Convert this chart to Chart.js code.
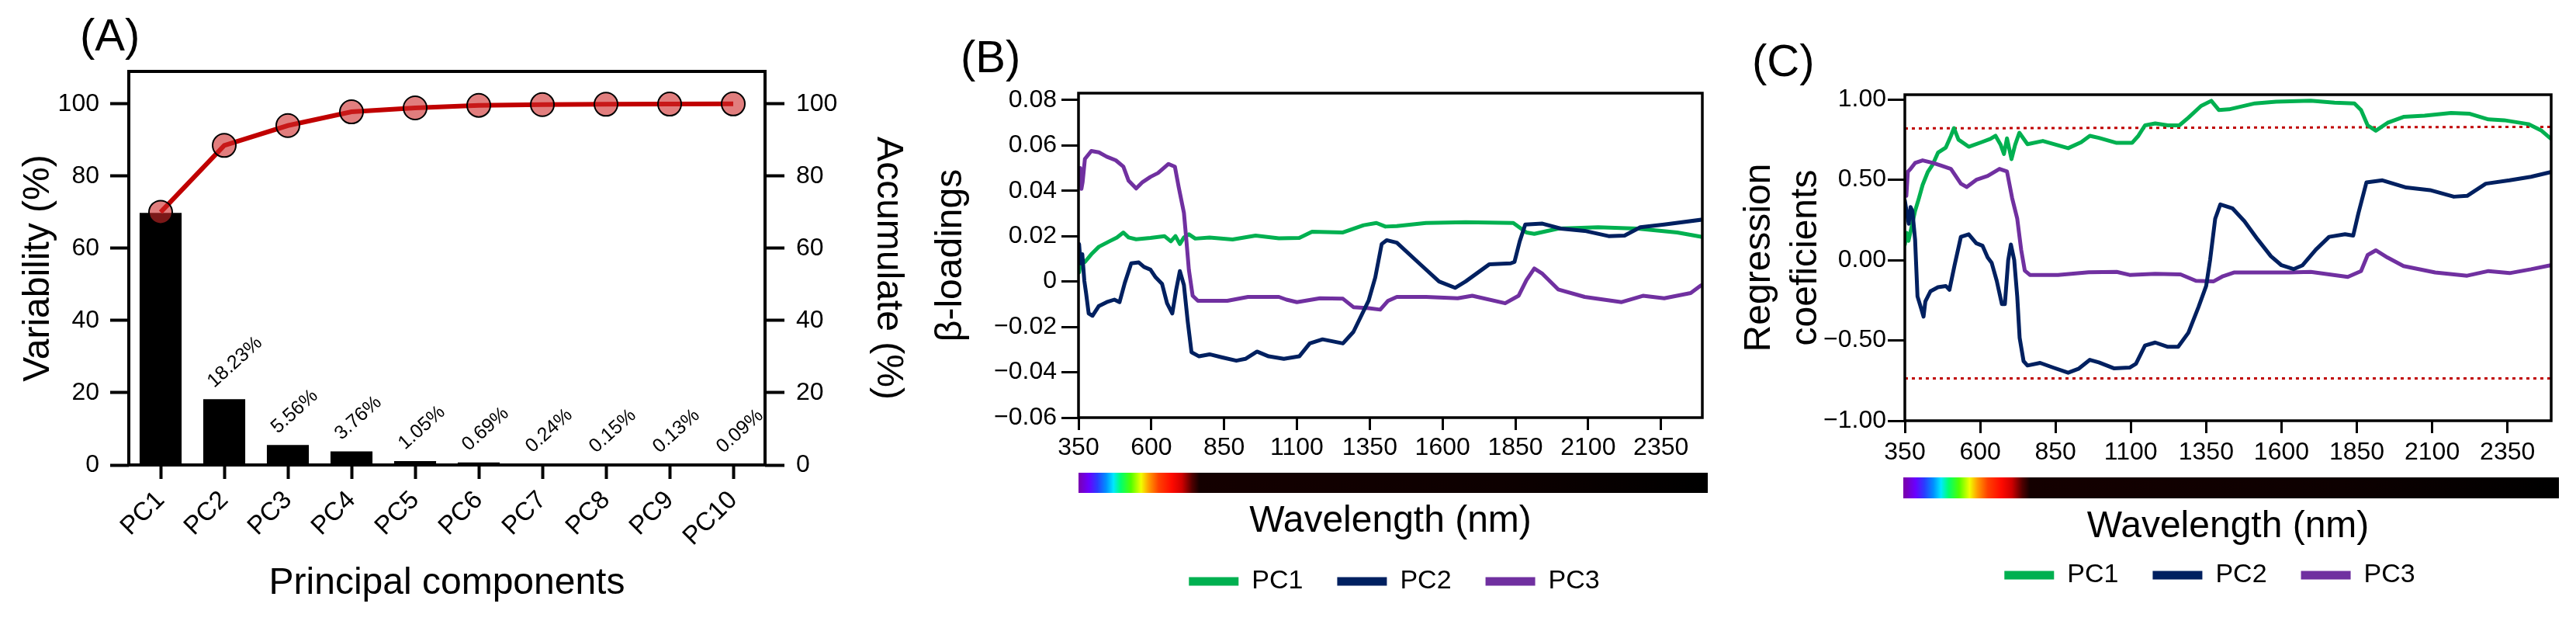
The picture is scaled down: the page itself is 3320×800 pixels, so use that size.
<!DOCTYPE html>
<html><head><meta charset="utf-8">
<script src="https://cdn.jsdelivr.net/npm/chart.js@4.4.1/dist/chart.umd.min.js"></script>
<style>
html,body{margin:0;padding:0;background:#fff;}
#wrap{position:relative;width:3320px;height:800px;overflow:hidden;background:#fff;}
.box{position:absolute;top:0;height:800px;}
.plabel{position:absolute;font-family:'Liberation Sans',Arial,sans-serif;font-size:58px;line-height:58px;color:#000;white-space:nowrap;}
</style></head><body>
<div id="wrap">
  <div class="box" style="left:0;width:1180px"><canvas id="chartA"></canvas></div>
  <div class="box" style="left:1180px;width:1234px"><canvas id="chartB"></canvas></div>
  <div class="box" style="left:2230px;width:1236px"><canvas id="chartC"></canvas></div>
  <div class="plabel" style="left:103px;top:16px">(A)</div>
  <div class="plabel" style="left:1238px;top:44px">(B)</div>
  <div class="plabel" style="left:2258px;top:49px">(C)</div>
</div>
<script>
// ---------- Panel A data ----------
const components = ['PC1','PC2','PC3','PC4','PC5','PC6','PC7','PC8','PC9','PC10'];
const variability = [69.8, 18.23, 5.56, 3.76, 1.05, 0.69, 0.24, 0.15, 0.13, 0.09];
const accumulated = [70.0, 88.5, 94.0, 97.8, 98.9, 99.6, 99.8, 99.9, 99.95, 100.0];
const variabilityLabels = ['', '18.23%', '5.56%', '3.76%', '1.05%', '0.69%', '0.24%', '0.15%', '0.13%', '0.09%'];
const percentTicks = [0, 20, 40, 60, 80, 100];

// ---------- Panel B data (beta-loadings) ----------
const wavelengthTicks = [350, 600, 850, 1100, 1350, 1600, 1850, 2100, 2350];
const loadingTicks = [-0.06, -0.04, -0.02, 0, 0.02, 0.04, 0.06, 0.08];
const bWlPC1 = [352,360,372,394,420,456,482,504,522,548,597,645,667,683,698,712,729,751,800,879,958,1038,1108,1152,1258,1329,1373,1404,1443,1543,1679,1843,1888,1915,1997,2134,2270,2406,2488];
const bPC1 = [0.0040,0.0099,0.0086,0.0120,0.0153,0.0177,0.0194,0.0216,0.0194,0.0186,0.0192,0.0200,0.0177,0.0200,0.0165,0.0194,0.0208,0.0189,0.0194,0.0185,0.0202,0.0190,0.0192,0.0219,0.0216,0.0248,0.0258,0.0242,0.0244,0.0258,0.0261,0.0258,0.0216,0.0210,0.0233,0.0239,0.0233,0.0216,0.0197];
const bWlPC2 = [352,357,363,370,376,385,398,420,447,473,491,509,531,557,575,597,615,637,654,672,685,698,712,725,738,764,800,844,892,923,963,1003,1055,1108,1144,1188,1258,1294,1346,1369,1391,1408,1443,1525,1588,1643,1679,1761,1834,1847,1865,1884,1943,2006,2088,2170,2225,2279,2361,2493];
const bPC2 = [0.0165,0.0080,0.0120,0.0003,-0.0051,-0.0141,-0.0151,-0.0108,-0.0091,-0.0080,-0.0091,-0.0006,0.0080,0.0084,0.0064,0.0052,0.0018,-0.0011,-0.0096,-0.0141,-0.0039,0.0046,-0.0016,-0.0176,-0.0312,-0.0330,-0.0321,-0.0335,-0.0349,-0.0341,-0.0309,-0.0330,-0.0341,-0.0330,-0.0273,-0.0255,-0.0273,-0.0222,-0.0085,0.0018,0.0165,0.0182,0.0171,0.0074,0.0000,-0.0028,0.0000,0.0076,0.0080,0.0086,0.0177,0.0251,0.0255,0.0233,0.0223,0.0200,0.0202,0.0239,0.0251,0.0273];
const bWlPC3 = [352,356,360,364,372,394,420,447,478,504,522,548,570,597,623,659,681,694,712,720,729,742,760,861,932,1038,1064,1100,1179,1258,1294,1346,1386,1413,1443,1543,1652,1702,1815,1861,1888,1915,1943,1997,2088,2215,2288,2361,2452,2488];
const bPC3 = [0.0461,0.0500,0.0408,0.0437,0.0540,0.0575,0.0569,0.0550,0.0534,0.0506,0.0444,0.0410,0.0438,0.0461,0.0478,0.0518,0.0506,0.0416,0.0302,0.0188,0.0051,-0.0063,-0.0085,-0.0085,-0.0068,-0.0068,-0.0080,-0.0091,-0.0074,-0.0076,-0.0113,-0.0118,-0.0124,-0.0085,-0.0068,-0.0068,-0.0074,-0.0063,-0.0096,-0.0063,0.0006,0.0057,0.0034,-0.0035,-0.0068,-0.0091,-0.0063,-0.0074,-0.0051,-0.0017];

// ---------- Panel C data (regression coefficients) ----------
const coefTicks = [-1, -0.5, 0, 0.5, 1];
const cWlPC1 = [350,356,362,367,384,397,409,426,443,460,486,503,513,528,562,604,634,651,668,679,689,704,716,730,757,808,892,935,964,994,1053,1104,1125,1147,1181,1223,1261,1291,1333,1367,1392,1426,1512,1582,1697,1776,1842,1864,1886,1913,1952,2005,2075,2163,2225,2287,2339,2419,2463,2493];
const cPC1 = [0.097,0.170,0.120,0.161,0.306,0.387,0.468,0.548,0.597,0.669,0.701,0.774,0.822,0.750,0.706,0.734,0.755,0.774,0.718,0.661,0.758,0.629,0.718,0.793,0.722,0.742,0.697,0.734,0.774,0.761,0.730,0.730,0.774,0.839,0.851,0.839,0.839,0.887,0.960,0.992,0.935,0.939,0.976,0.987,0.992,0.980,0.976,0.935,0.839,0.806,0.855,0.892,0.900,0.916,0.911,0.876,0.871,0.847,0.806,0.758];
const cWlPC2 = [350,356,363,369,375,384,392,405,412,418,435,460,486,498,515,536,562,587,608,625,638,655,672,682,693,702,713,723,731,744,757,799,842,892,926,964,994,1045,1096,1117,1147,1181,1223,1257,1291,1325,1350,1363,1380,1397,1437,1477,1521,1565,1600,1640,1670,1714,1758,1811,1838,1855,1882,1935,2014,2093,2172,2216,2278,2357,2428,2493];
const cPC2 = [0.371,0.300,0.226,0.330,0.306,0.129,-0.226,-0.306,-0.352,-0.258,-0.194,-0.169,-0.161,-0.185,-0.032,0.145,0.161,0.105,0.089,0.016,-0.016,-0.129,-0.274,-0.274,0.000,0.097,0.000,-0.226,-0.484,-0.629,-0.656,-0.640,-0.669,-0.701,-0.677,-0.621,-0.637,-0.674,-0.669,-0.645,-0.532,-0.513,-0.540,-0.540,-0.452,-0.290,-0.161,0.000,0.258,0.347,0.323,0.242,0.129,0.024,-0.032,-0.056,-0.032,0.065,0.145,0.161,0.153,0.290,0.484,0.497,0.452,0.436,0.395,0.400,0.476,0.497,0.519,0.548];
const cWlPC3 = [350,355,360,367,384,409,443,469,503,536,555,587,625,664,689,706,723,736,748,765,858,960,1053,1096,1181,1265,1316,1375,1406,1442,1626,1697,1820,1864,1886,1913,1952,2005,2110,2216,2287,2357,2428,2493];
const cPC3 = [0.484,0.400,0.550,0.564,0.605,0.621,0.605,0.589,0.568,0.476,0.455,0.500,0.524,0.568,0.552,0.387,0.258,0.065,-0.065,-0.092,-0.092,-0.076,-0.073,-0.092,-0.085,-0.089,-0.129,-0.132,-0.100,-0.077,-0.077,-0.073,-0.105,-0.068,0.032,0.061,0.016,-0.037,-0.077,-0.097,-0.068,-0.081,-0.057,-0.032];
const thresholdWl = [350, 2495];
const upperThreshold = [0.82, 0.83];
const lowerThreshold = [-0.737, -0.737];

// visible-spectrum colour strip (wavelength, colour)
const spectrumStops = [[350,'#7a00b0'],[385,'#6a00ff'],[415,'#2a3cff'],[445,'#0090ff'],[470,'#00e8ff'],[495,'#00ff70'],[530,'#50ff00'],[565,'#f0ff00'],[590,'#ffa000'],[625,'#ff4000'],[670,'#ff0a00'],[705,'#d00000'],[740,'#500000'],[765,'#140000'],[1800,'#0d0000'],[2495,'#000000']];

const FONT = "'Liberation Sans', Arial, Helvetica, sans-serif";
Chart.defaults.font.family = FONT;
Chart.defaults.color = '#000';

const GREEN = '#00b050', NAVY = '#002060', PURPLE = '#7030a0', RED = '#c00000';

const pts = (xs, ys) => xs.map((x, i) => ({x: x, y: ys[i]}));
const signed = (v, d) => (v < 0 ? '\u2212' : '') + Math.abs(v).toFixed(d);

const framePlugin = {
  id: 'frame',
  afterDatasetsDraw(chart, args, opts) {
    const {ctx, chartArea: a} = chart;
    ctx.save();
    ctx.strokeStyle = '#000';
    ctx.lineWidth = opts.width || 4;
    ctx.strokeRect(a.left, a.top, a.right - a.left, a.bottom - a.top);
    ctx.restore();
  }
};

const spectrumPlugin = {
  id: 'spectrum',
  afterDraw(chart, args, opts) {
    if (!opts || !opts.show) return;
    const {ctx, chartArea: a} = chart;
    const xs = chart.scales.x;
    const x0 = a.left - opts.extendLeft, x1 = a.right + opts.extendRight;
    const g = ctx.createLinearGradient(x0, 0, x1, 0);
    spectrumStops.forEach(([wl, c]) => {
      const p = (xs.getPixelForValue(wl) - x0) / (x1 - x0);
      g.addColorStop(Math.min(1, Math.max(0, p)), c);
    });
    ctx.save();
    ctx.fillStyle = g;
    ctx.fillRect(x0, a.bottom + opts.offset, x1 - x0, opts.height);
    ctx.restore();
  }
};

const barLabelPlugin = {
  id: 'barLabels',
  afterDatasetsDraw(chart, args, opts) {
    if (!opts || !opts.labels) return;
    const {ctx} = chart;
    const meta = chart.getDatasetMeta(opts.datasetIndex);
    ctx.save();
    ctx.font = opts.size + 'px ' + FONT;
    ctx.fillStyle = '#000';
    ctx.textAlign = 'left';
    ctx.textBaseline = 'alphabetic';
    meta.data.forEach((bar, i) => {
      const t = opts.labels[i];
      if (!t) return;
      ctx.save();
      ctx.translate(bar.x + opts.dx, bar.y + opts.dy);
      ctx.rotate(-opts.angle * Math.PI / 180);
      ctx.fillText(t, 0, 0);
      ctx.restore();
    });
    ctx.restore();
  }
};

const tickGrid = (len, w) => ({display: true, drawOnChartArea: false, drawTicks: true, tickLength: len, tickWidth: w, tickColor: '#000', offset: false});

// ---------- Chart A ----------
new Chart(document.getElementById('chartA'), {
  type: 'bar',
  data: {
    labels: components,
    datasets: [
      {type: 'line', label: 'Accumulate (%)', data: accumulated, yAxisID: 'y2', borderColor: RED, borderWidth: 6,
       pointRadius: 15, pointHoverRadius: 15, pointBackgroundColor: 'rgba(205,40,40,0.6)', pointBorderColor: '#000',
       pointBorderWidth: 2, tension: 0, order: 1},
      {type: 'bar', label: 'Variability (%)', data: variability, yAxisID: 'y', backgroundColor: '#000',
       barPercentage: 0.66, categoryPercentage: 1, order: 2}
    ]
  },
  options: {
    responsive: true, maintainAspectRatio: false, animation: false, devicePixelRatio: 1,
    layout: {padding: {top: 92, left: 0, right: 0, bottom: 0}},
    plugins: {
      legend: {display: false}, tooltip: {enabled: false},
      frame: {width: 4},
      barLabels: {labels: variabilityLabels, datasetIndex: 1, size: 25, dx: -13, dy: -14, angle: 42}
    },
    scales: {
      x: {type: 'category', offset: true, grid: tickGrid(18, 4), border: {display: false},
          ticks: {font: {size: 33}, color: '#000', maxRotation: 45, minRotation: 45, padding: 8, autoSkip: false},
          title: {display: true, text: 'Principal components', font: {size: 48}, color: '#000', padding: {top: 0, bottom: 19}},
          afterFit(s) { s.height = 201; }},
      y: {position: 'left', min: 0, max: 109,
          afterBuildTicks(s) { s.ticks = percentTicks.map(v => ({value: v})); },
          grid: tickGrid(24, 4), border: {display: false},
          ticks: {font: {size: 32}, color: '#000', padding: 14},
          title: {display: true, text: 'Variability (%)', font: {size: 48}, color: '#000', padding: {top: 21, bottom: 0}},
          afterFit(s) { s.width = 166; }},
      y2: {position: 'right', min: 0, max: 109,
          afterBuildTicks(s) { s.ticks = percentTicks.map(v => ({value: v})); },
          grid: tickGrid(25, 4), border: {display: false},
          ticks: {font: {size: 32}, color: '#000', padding: 15},
          title: {display: true, text: 'Accumulate (%)', font: {size: 48}, color: '#000', padding: {top: 7, bottom: 0}},
          afterFit(s) { s.width = 194; }}
    }
  },
  plugins: [framePlugin, barLabelPlugin]
});

const legendOpts = () => ({
  display: true, position: 'bottom',
  labels: {
    boxWidth: 64, boxHeight: 11, padding: 44, font: {size: 34}, color: '#000',
    filter: (item) => item.datasetIndex < 3,
    sort: (a, b) => a.datasetIndex - b.datasetIndex,
    generateLabels(chart) {
      return Chart.defaults.plugins.legend.labels.generateLabels(chart).map(l => Object.assign(l, {lineWidth: 0, fillStyle: l.strokeStyle}));
    }
  }
});

const seriesLine = (label, data, color, order) => ({
  label: label, data: data, borderColor: color, backgroundColor: color, borderWidth: 5,
  pointRadius: 0, tension: 0, borderJoinStyle: 'round', borderCapStyle: 'round', order: order
});

// ---------- Chart B ----------
new Chart(document.getElementById('chartB'), {
  type: 'line',
  data: {
    datasets: [
      seriesLine('PC1', pts(bWlPC1, bPC1), GREEN, 3),
      seriesLine('PC2', pts(bWlPC2, bPC2), NAVY, 1),
      seriesLine('PC3', pts(bWlPC3, bPC3), PURPLE, 2)
    ]
  },
  options: {
    responsive: true, maintainAspectRatio: false, animation: false, devicePixelRatio: 1,
    layout: {padding: {top: 120, left: 0, right: 0, bottom: 24}},
    plugins: {
      legend: legendOpts(), tooltip: {enabled: false},
      frame: {width: 3.5},
      spectrum: {show: true, offset: 71, height: 26, extendLeft: 0, extendRight: 7}
    },
    scales: {
      x: {type: 'linear', min: 350, max: 2492,
          afterBuildTicks(s) { s.ticks = wavelengthTicks.map(v => ({value: v})); },
          grid: tickGrid(16, 3), border: {display: false},
          ticks: {font: {size: 32}, color: '#000', padding: 4, maxRotation: 0, autoSkip: false, callback: v => String(v)},
          title: {display: true, text: 'Wavelength (nm)', font: {size: 48}, color: '#000', padding: {top: 0, bottom: -13}},
          afterFit(s) { s.height = 150; }},
      y: {position: 'left', min: -0.06, max: 0.083,
          afterBuildTicks(s) { s.ticks = loadingTicks.map(v => ({value: v})); },
          grid: tickGrid(22, 3), border: {display: false},
          ticks: {font: {size: 32}, color: '#000', padding: 6, callback: v => (v === 0 ? '0' : signed(v, 2))},
          title: {display: true, text: 'β-loadings', font: {size: 48}, color: '#000', padding: {top: 17, bottom: 0}},
          afterFit(s) { s.width = 210; }},
      yr: {position: 'right', display: true, ticks: {display: false}, grid: {display: false}, border: {display: false},
          afterFit(s) { s.width = 220; }}
    }
  },
  plugins: [framePlugin, spectrumPlugin]
});

// ---------- Chart C ----------
new Chart(document.getElementById('chartC'), {
  type: 'line',
  data: {
    datasets: [
      seriesLine('PC1', pts(cWlPC1, cPC1), GREEN, 3),
      seriesLine('PC2', pts(cWlPC2, cPC2), NAVY, 1),
      seriesLine('PC3', pts(cWlPC3, cPC3), PURPLE, 2),
      {label: 'upper limit', data: pts(thresholdWl, upperThreshold), borderColor: RED, borderWidth: 3, borderDash: [4, 5], pointRadius: 0, order: 4},
      {label: 'lower limit', data: pts(thresholdWl, lowerThreshold), borderColor: RED, borderWidth: 3, borderDash: [4, 5], pointRadius: 0, order: 4}
    ]
  },
  options: {
    responsive: true, maintainAspectRatio: false, animation: false, devicePixelRatio: 1,
    layout: {padding: {top: 122, left: 0, right: 0, bottom: 32}},
    plugins: {
      legend: legendOpts(), tooltip: {enabled: false},
      frame: {width: 3.5},
      spectrum: {show: true, offset: 73, height: 27, extendLeft: 2, extendRight: 10}
    },
    scales: {
      x: {type: 'linear', min: 350, max: 2495,
          afterBuildTicks(s) { s.ticks = wavelengthTicks.map(v => ({value: v})); },
          grid: tickGrid(16, 3), border: {display: false},
          ticks: {font: {size: 32}, color: '#000', padding: 6, maxRotation: 0, autoSkip: false, callback: v => String(v)},
          title: {display: true, text: 'Wavelength (nm)', font: {size: 48}, color: '#000', padding: {top: 0, bottom: -28}},
          afterFit(s) { s.height = 138; }},
      y: {position: 'left', min: -1, max: 1.03,
          afterBuildTicks(s) { s.ticks = coefTicks.map(v => ({value: v})); },
          grid: tickGrid(22, 3), border: {display: false},
          ticks: {font: {size: 32}, color: '#000', padding: 2, callback: v => signed(v, 2)},
          title: {display: true, text: ['Regression', 'coeficients'], font: {size: 48, lineHeight: 1.25}, color: '#000', padding: {top: 8, bottom: 0}},
          afterFit(s) { s.width = 225; }},
      yr: {position: 'right', display: true, ticks: {display: false}, grid: {display: false}, border: {display: false},
          afterFit(s) { s.width = 178; }}
    }
  },
  plugins: [framePlugin, spectrumPlugin]
});
</script>
</body></html>
